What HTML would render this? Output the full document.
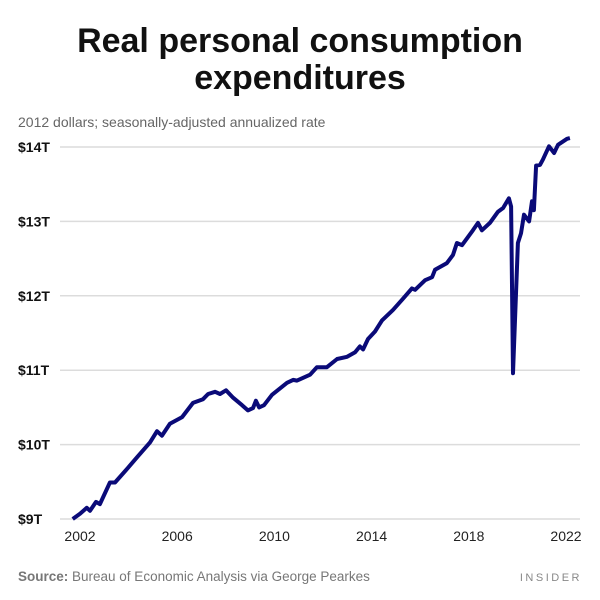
<!DOCTYPE html>
<html><head><meta charset="utf-8"><style>
body{margin:0;background:#fff;font-family:"Liberation Sans",sans-serif;}
#wrap{position:relative;width:600px;height:600px;overflow:hidden;}
</style></head><body>
<div id="wrap">
<svg id="chart" width="600" height="600">
<text x="300" y="52" text-anchor="middle" font-size="34" font-weight="bold" fill="#111">Real personal consumption</text>
<text x="300" y="89" text-anchor="middle" font-size="34" font-weight="bold" fill="#111">expenditures</text>
<text x="18" y="127" font-size="14" fill="#666">2012 dollars; seasonally-adjusted annualized rate</text>
<g id="grid"></g><g id="xt"></g>
<path id="line" fill="none" stroke="#0a0a78" stroke-width="4" stroke-linejoin="round"></path>
<text x="18" y="581" font-size="13.5" fill="#777"><tspan font-weight="bold">Source:</tspan> Bureau of Economic Analysis via George Pearkes</text>
<text x="582" y="581" text-anchor="end" font-size="11" fill="#888" letter-spacing="2.5">INSIDER</text>
</svg></div>
<script>
const yTicks=[9,10,11,12,13,14];
const yTickLabels=["$9T","$10T","$11T","$12T","$13T","$14T"];
const xTicks=[2002,2006,2010,2014,2018,2022];
const years=[2001.70,2002.0,2002.28,2002.41,2002.66,2002.82,2003.23,2003.44,2003.98,2004.35,2004.88,2005.17,2005.37,2005.70,2006.20,2006.65,2007.06,2007.27,2007.56,2007.76,2008.01,2008.30,2008.67,2008.91,2009.12,2009.24,2009.37,2009.57,2009.90,2010.52,2010.77,2010.93,2011.47,2011.75,2012.16,2012.58,2012.99,2013.32,2013.52,2013.65,2013.85,2014.14,2014.43,2014.88,2015.29,2015.66,2015.79,2016.20,2016.49,2016.61,2017.10,2017.35,2017.51,2017.72,2018.17,2018.38,2018.54,2018.87,2019.20,2019.41,2019.65,2019.74,2019.82,2020.02,2020.15,2020.27,2020.48,2020.60,2020.68,2020.77,2020.93,2021.05,2021.30,2021.51,2021.67,2022.04,2022.16];
const values=[9.0,9.07,9.15,9.11,9.23,9.2,9.49,9.49,9.69,9.83,10.03,10.18,10.12,10.28,10.37,10.56,10.61,10.68,10.71,10.68,10.73,10.63,10.53,10.46,10.49,10.59,10.5,10.53,10.67,10.83,10.87,10.86,10.94,11.04,11.04,11.15,11.18,11.24,11.32,11.28,11.42,11.52,11.67,11.81,11.96,12.1,12.08,12.21,12.25,12.35,12.44,12.55,12.71,12.68,12.88,12.98,12.88,12.98,13.13,13.18,13.31,13.2,10.96,12.71,12.84,13.09,13.0,13.27,13.15,13.75,13.76,13.83,14.01,13.92,14.03,14.11,14.12];
const xS=y=>80+(y-2002)*24.3;
const yS=v=>519-(v-9)*74.4;
const NS="http://www.w3.org/2000/svg";
const g=document.getElementById('grid');
yTicks.forEach((t,i)=>{
 const l=document.createElementNS(NS,'line');
 l.setAttribute('x1',60);l.setAttribute('x2',580);l.setAttribute('y1',yS(t));l.setAttribute('y2',yS(t));
 l.setAttribute('stroke','#dcdcdc');l.setAttribute('stroke-width','1.5');
 
 
 g.appendChild(l);
 const tx=document.createElementNS(NS,'text');
 tx.setAttribute('x',18);tx.setAttribute('y',yS(t)+5);tx.setAttribute('font-size','14');tx.setAttribute('font-weight','bold');tx.setAttribute('fill','#111');
 tx.textContent=yTickLabels[i];
 
 
 g.appendChild(tx);
});
const xt=document.getElementById('xt');
xTicks.forEach(t=>{
 const tx=document.createElementNS(NS,'text');
 tx.setAttribute('x',xS(t));tx.setAttribute('y',541);tx.setAttribute('font-size','14');tx.setAttribute('text-anchor','middle');tx.setAttribute('fill','#222');
 tx.textContent=t;
 
 
 xt.appendChild(tx);
});
document.getElementById('line').setAttribute('d',years.map((y,i)=>(i?'L':'M')+xS(y).toFixed(1)+','+yS(values[i]).toFixed(1)).join(''));
</script>
</body></html>
